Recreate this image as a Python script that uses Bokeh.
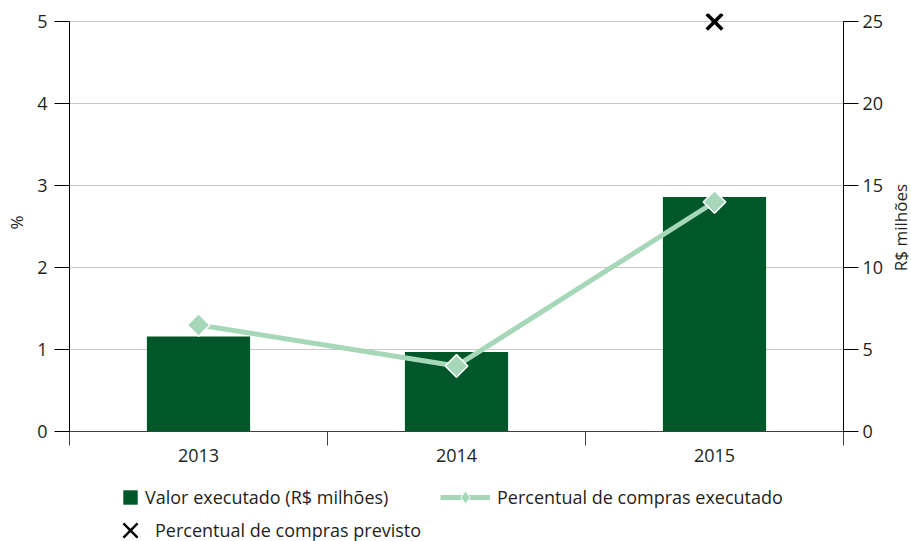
import math
from bokeh.plotting import figure
from bokeh.layouts import column, row
from bokeh.models import (Range1d, LinearAxis, FixedTicker, SingleIntervalTicker,
                          Legend, LegendItem, Label)
from bokeh.embed import file_html
from bokeh.resources import INLINE

# ---- data ----
years = ["2013", "2014", "2015"]
valor_executado = [5.8, 4.85, 14.3]      # R$ milhões (right axis)
perc_executado = [1.3, 0.8, 2.8]         # % (left axis)
prev_years = ["2015"]
perc_previsto = [5.0]                    # % (left axis)
pct_ticks_max = 5
rs_ticks_max = 25
right_axis_title = "R$ milhões"

FONT = "Open Sans"
TXT = "#231f20"
BAR = "#00582A"
LINE = "#A6D7B8"

pos = {y: i + 0.5 for i, y in enumerate(years)}
x_centers = [pos[y] for y in years]
boundaries = list(range(len(years) + 1))
prev_x = [pos[y] for y in prev_years]

W = 911
WR = 25
H1 = 475
H2 = 66

p = figure(width=W - WR, height=H1, output_backend="svg", toolbar_location=None,
           x_range=Range1d(0, len(years)), y_range=Range1d(0, pct_ticks_max * 1.02),
           min_border_left=69, min_border_right=43, min_border_top=13,
           min_border_bottom=44, outline_line_color=None)
p.extra_y_ranges = {"r": Range1d(0, rs_ticks_max * 1.02)}

# x axis
xa = p.xaxis[0]
xa.ticker = FixedTicker(ticks=x_centers, minor_ticks=boundaries)
xa.major_label_overrides = {c: y for c, y in zip(x_centers, years)}
xa.major_tick_in = 0
xa.major_tick_out = 0
xa.minor_tick_in = 0
xa.minor_tick_out = 14
xa.minor_tick_line_color = "#404040"
xa.axis_line_color = "#404040"
xa.major_label_standoff = 3
xa.major_label_text_font = FONT
xa.major_label_text_font_size = "18px"
xa.major_label_text_color = TXT
p.xgrid.grid_line_color = None

# left axis
ya = p.yaxis[0]
ya.ticker = SingleIntervalTicker(interval=1)
ya.axis_label = "%"
ya.bounds = (0, pct_ticks_max)

ra = LinearAxis(y_range_name="r", ticker=SingleIntervalTicker(interval=5),
                bounds=(0, rs_ticks_max))
p.add_layout(ra, "right")

for ax in (ya, ra):
    ax.major_tick_in = 0
    ax.major_tick_out = 15
    ax.minor_tick_in = 0
    ax.minor_tick_out = 0
    ax.axis_line_color = "black"
    ax.major_tick_line_color = "black"
    ax.major_label_standoff = 7
    ax.major_label_text_font = FONT
    ax.major_label_text_font_size = "18px"
    ax.major_label_text_color = TXT
    ax.axis_label_text_font = FONT
    ax.axis_label_text_font_size = "17px"
    ax.axis_label_text_font_style = "normal"
    ax.axis_label_text_color = TXT

ya.axis_label_standoff = 6
ra.major_label_standoff = 4

p.ygrid.grid_line_color = "#C8C8C8"
p.ygrid.grid_line_width = 1

# ---- glyphs ----
bars = p.vbar(x=x_centers, top=valor_executado, width=0.4, y_range_name="r",
              fill_color=BAR, line_color=None)
ln = p.line(x_centers, perc_executado, line_color=LINE, line_width=5)
dia = p.scatter(x_centers, perc_executado, marker="square", angle=math.pi / 4,
                size=16, fill_color=LINE, line_color="white", line_width=1.5)
prev = p.scatter(prev_x, perc_previsto, marker="x",
                 size=22, line_color="black", line_width=3.5)

# ---- right axis title strip ----
r = figure(width=WR, height=H1, output_backend="svg", toolbar_location=None,
           x_range=Range1d(0, 1), y_range=Range1d(0, 1),
           x_axis_type=None, y_axis_type=None, min_border=0,
           outline_line_color=None)
r.grid.visible = False
r.add_layout(Label(x=0.55, y=0.488, text=right_axis_title, angle=math.pi / 2,
                   text_align="center", text_baseline="middle",
                   text_font=FONT, text_font_size="17px", text_color=TXT))

# ---- legend strip (same series, drawn outside its view; only the legend shows) ----
q = figure(width=W, height=H2, output_backend="svg", toolbar_location=None,
           x_range=Range1d(100, 101), y_range=Range1d(100, 101),
           x_axis_type=None, y_axis_type=None, min_border=0,
           outline_line_color=None)
q.grid.visible = False
lg_bar = q.vbar(x=x_centers, top=valor_executado, width=0.4,
                fill_color=BAR, line_color=None)
lg_line = q.line(x_centers, perc_executado, line_color=LINE, line_width=5)
lg_dia = q.scatter(x_centers, perc_executado, marker="diamond",
                   fill_color=LINE, line_color="white", line_width=1)
lg_x = q.scatter(prev_x, perc_previsto, marker="x", line_color="black", line_width=2.4)


def mk_legend(items, x, y, gw, gh, standoff):
    lg = Legend(items=items, location=(x, y), orientation="vertical",
                glyph_width=gw, glyph_height=gh, label_height=20,
                label_standoff=standoff, padding=0, margin=0, spacing=0,
                border_line_color=None, background_fill_alpha=0,
                label_text_font=FONT, label_text_font_size="18px",
                label_text_color=TXT)
    q.add_layout(lg)
    return lg


mk_legend([LegendItem(label="Valor executado (R$ milhões)", renderers=[lg_bar])],
          121, 32, 18, 18, 6)
mk_legend([LegendItem(label="Percentual de compras executado",
                      renderers=[lg_line, lg_dia])],
          440, 27, 50, 34, 7)
mk_legend([LegendItem(label="Percentual de compras previsto", renderers=[lg_x])],
          105, -14, 50, 50, -10)

layout = column(row(p, r, spacing=0), q, spacing=0)
open("out.html", "w").write(file_html(layout, INLINE))
